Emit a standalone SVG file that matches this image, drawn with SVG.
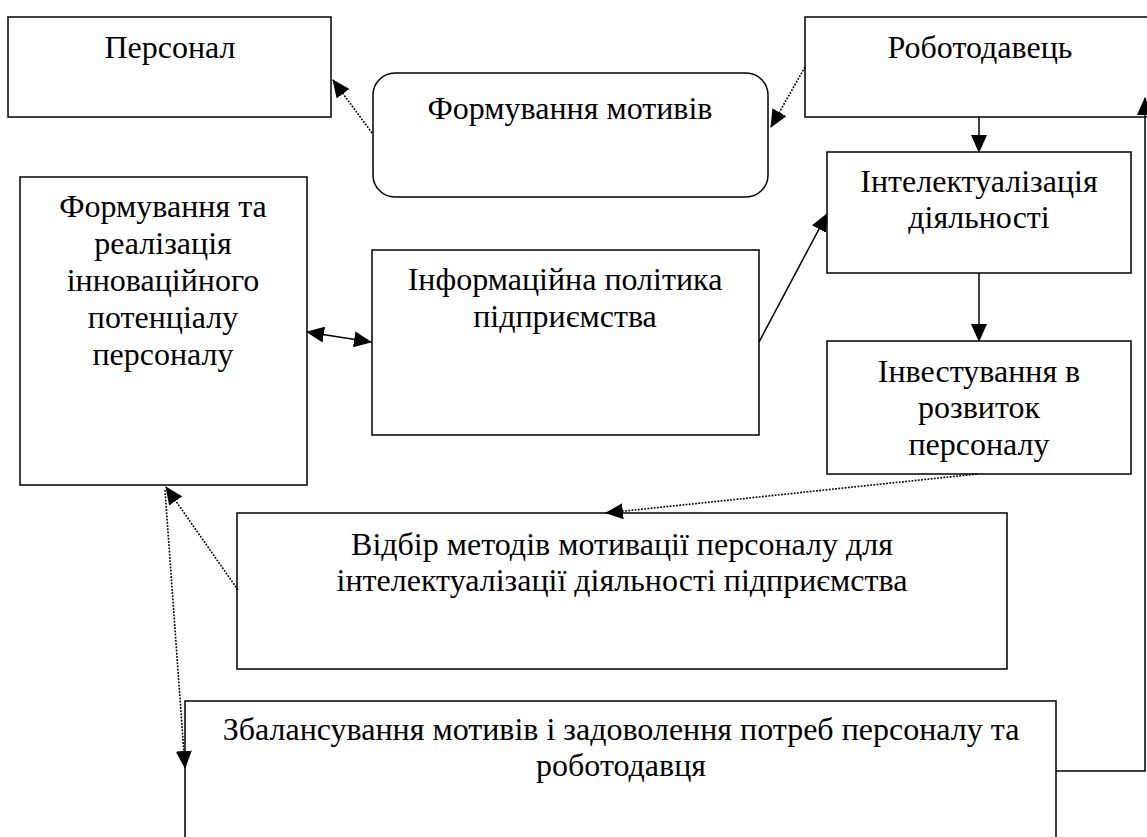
<svg xmlns="http://www.w3.org/2000/svg" width="1147" height="837" viewBox="0 0 1147 837">
<style>
.box{fill:#fff;stroke:#000;stroke-width:1.5}
.t{font-family:'Liberation Serif','Times New Roman',serif;font-size:32px;fill:#000;text-anchor:middle}
.ln{fill:none;stroke:#000;stroke-width:1.5}
.dot{fill:none;stroke:#000;stroke-width:1.6;stroke-dasharray:1.8 1.4}
</style>
<defs>
<marker id="ah" viewBox="0 0 18 16" refX="17" refY="8" markerWidth="18" markerHeight="16" markerUnits="userSpaceOnUse" orient="auto-start-reverse">
<path d="M0,0 L18,8 L0,16 Z" fill="#000"/>
</marker>
</defs>
<rect width="1147" height="837" fill="#fff"/>
<g id="n-personal"><rect class="box" x="8" y="17" width="323" height="100"/><text class="t" x="170" y="58">Персонал</text></g>
<g id="n-employer"><rect class="box" x="805" y="17" width="360" height="100"/><text class="t" x="980" y="58">Роботодавець</text></g>
<g id="n-motives"><rect class="box" x="373" y="73" width="395" height="124" rx="22" ry="22"/><text class="t" x="570" y="119">Формування мотивів</text></g>
<g id="n-intel"><rect class="box" x="827" y="152" width="304" height="121"/><text class="t" x="979" y="192">Інтелектуалізація</text><text class="t" x="979" y="228">діяльності</text></g>
<g id="n-innov"><rect class="box" x="20" y="177" width="287" height="308"/><text class="t" x="163" y="217">Формування та</text><text class="t" x="163" y="254">реалізація</text><text class="t" x="163" y="291">інноваційного</text><text class="t" x="163" y="328">потенціалу</text><text class="t" x="163" y="365">персоналу</text></g>
<g id="n-info"><rect class="box" x="372" y="250" width="387" height="185"/><text class="t" x="565" y="290">Інформаційна політика</text><text class="t" x="565" y="327">підприємства</text></g>
<g id="n-invest"><rect class="box" x="827" y="341" width="304" height="133"/><text class="t" x="979" y="382">Інвестування в</text><text class="t" x="979" y="418">розвиток</text><text class="t" x="979" y="455">персоналу</text></g>
<g id="n-select"><rect class="box" x="237" y="513" width="770" height="156"/><text class="t" x="622" y="555">Відбір методів мотивації персоналу для</text><text class="t" x="622" y="591">інтелектуалізації діяльності підприємства</text></g>
<g id="n-balance"><rect class="box" x="185" y="701" width="871" height="160"/><text class="t" x="621" y="740">Збалансування мотивів і задоволення потреб персоналу та</text><text class="t" x="621" y="776">роботодавця</text></g>
<g id="connectors">
<line class="dot" x1="372" y1="133" x2="333" y2="80" marker-end="url(#ah)"/>
<line class="dot" x1="805" y1="67" x2="771" y2="127" marker-end="url(#ah)"/>
<line class="ln" x1="979" y1="117" x2="979" y2="152" marker-end="url(#ah)"/>
<line class="ln" x1="307" y1="332" x2="371" y2="342" marker-start="url(#ah)" marker-end="url(#ah)"/>
<line class="ln" x1="759" y1="342" x2="827" y2="214" marker-end="url(#ah)"/>
<line class="ln" x1="979" y1="273" x2="979" y2="341" marker-end="url(#ah)"/>
<line class="dot" x1="977" y1="474" x2="606" y2="513" marker-end="url(#ah)"/>
<line class="dot" x1="238" y1="590" x2="166" y2="487" marker-end="url(#ah)"/>
<line class="dot" x1="165" y1="490" x2="185" y2="768" marker-end="url(#ah)"/>
<polyline class="ln" points="1056,771 1145,771 1145,98" marker-end="url(#ah)"/>
</g>
</svg>
